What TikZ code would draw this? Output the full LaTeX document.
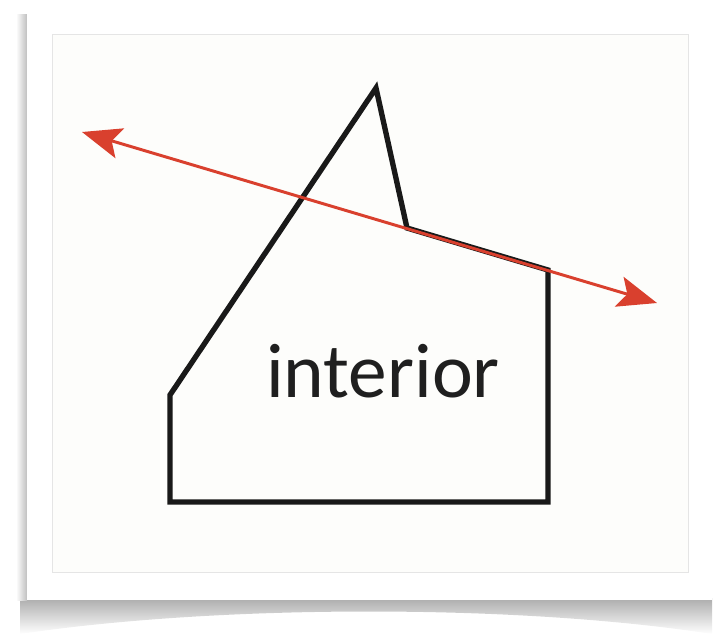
\documentclass[tikz,border=0pt]{standalone}
\usepackage{fontspec}
\setmainfont{Carlito}
\usepackage{tikz}
\usepackage{xcolor}
\usetikzlibrary{arrows.meta}
\definecolor{linered}{HTML}{D9402E}
\definecolor{paper}{HTML}{FDFDFB}

\begin{document}
\begin{tikzpicture}[x=0.025cm,y=-0.025cm]
	\useasboundingbox (0,0) rectangle (715,634);
	% Shadow
	\shade[top color=gray!65, bottom color=white] (20,598) -- (712,598) -- (712,634) .. controls (520,604) and (220,604) .. (20,634) -- cycle;
	\shade[left color=white, right color=gray!50] (16,14) rectangle (27,600);
	
	% Card
	\fill[white] (27,8) rectangle (712,600);
	\draw[gray!20, line width=0.6pt, fill=paper] (52,34) rectangle (688,572);
	
	% Polygon
	\coordinate (apex) at (376,88);
	\coordinate (notch) at (407,228);
	\coordinate (rtop) at (548,270);
	\coordinate (rbot) at (548,502);
	\coordinate (lbot) at (170,502);
	\coordinate (lmid) at (170,395);
	\draw[line width=3.8pt, black!90] (apex) -- (notch) -- (rtop) -- (rbot) -- (lbot) -- (lmid) -- cycle;
	
	% Line
	\coordinate (ltip) at (82,132);
	\coordinate (rtip) at (657,303);
	\draw[linered, line width=2.1pt, {Stealth[length=28pt,width=22pt,inset=6pt]}-{Stealth[length=28pt,width=22pt,inset=6pt]}] (ltip) -- (rtip);
	
	% Interior
	\node[anchor=base, inner sep=0pt, text=black!88, font=\fontsize{55}{60}\selectfont] (interior) at (383,397) {interior};
\end{tikzpicture}
\end{document}
